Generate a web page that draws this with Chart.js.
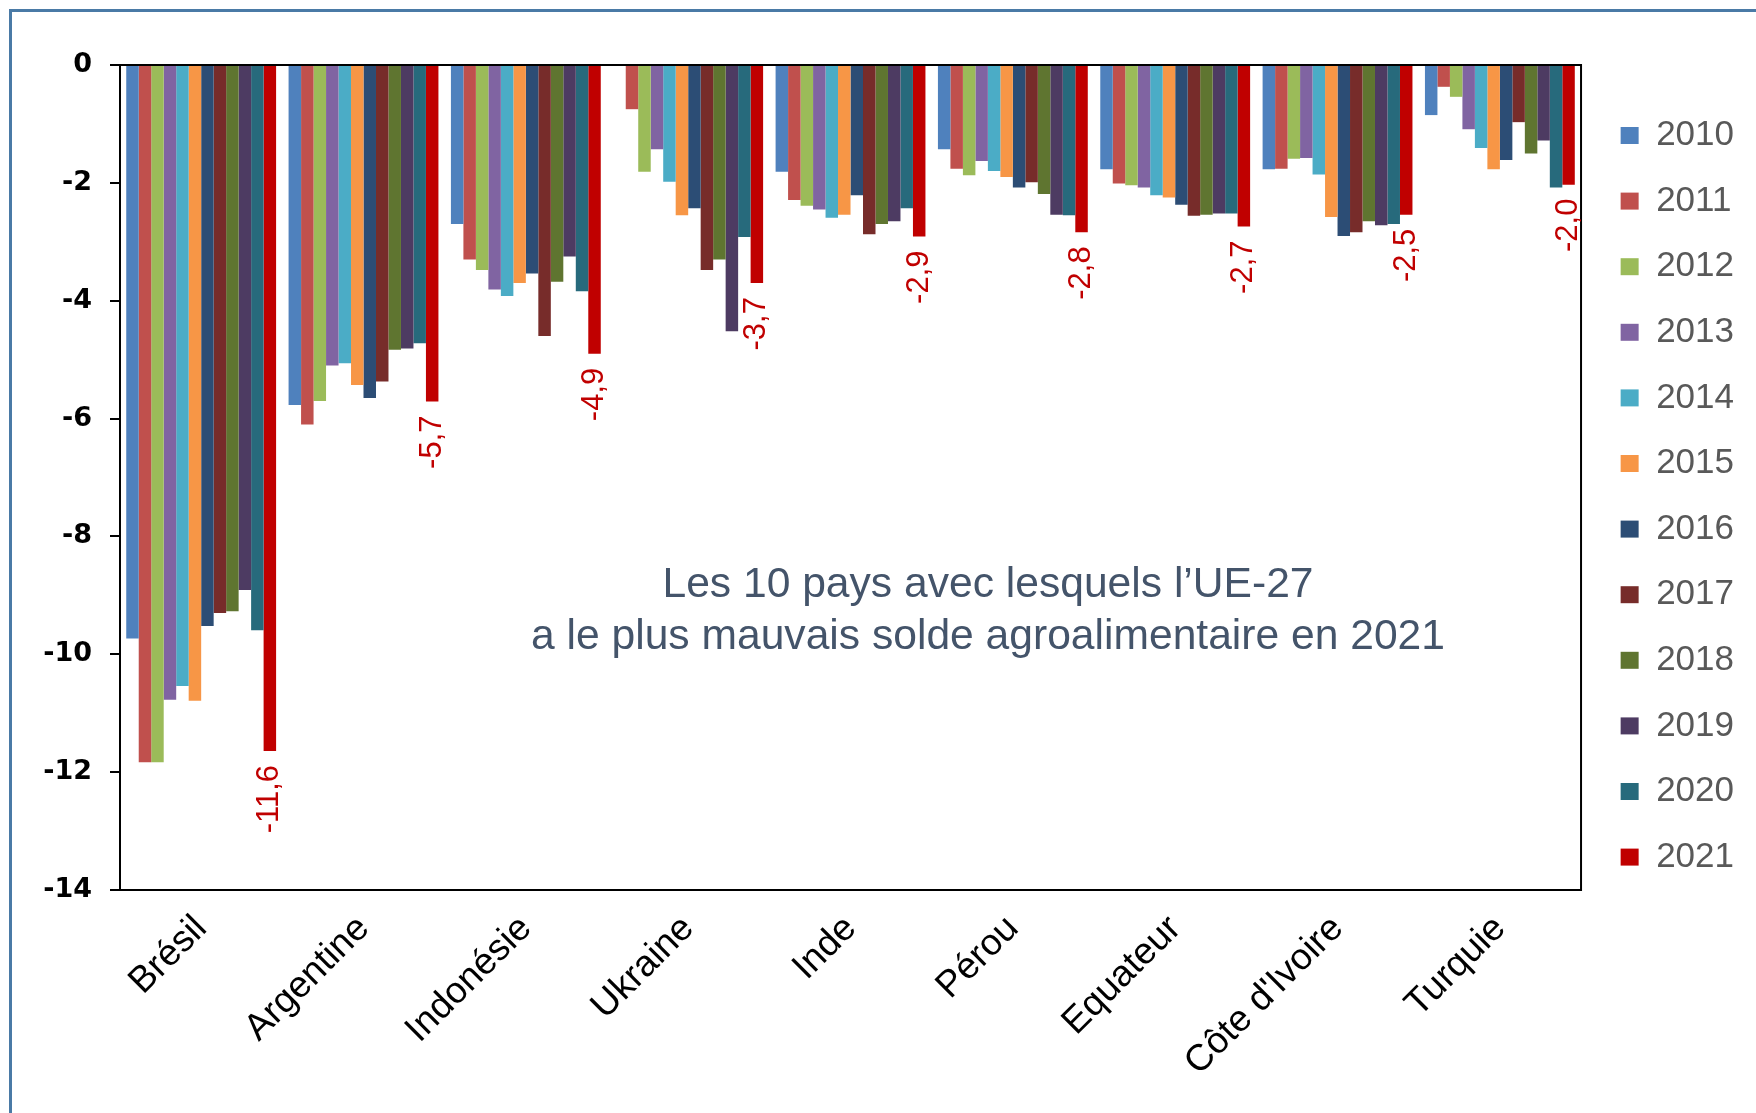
<!DOCTYPE html>
<html lang="fr">
<head>
<meta charset="utf-8">
<title>Solde agroalimentaire UE-27</title>
<script src="https://cdn.jsdelivr.net/npm/chart.js@4.4.1/dist/chart.umd.min.js"></script>
<style>
  html, body { margin: 0; padding: 0; background: #fff; }
  body { width: 1756px; height: 1113px; position: relative; overflow: hidden; }
  #frame { position: absolute; left: 9px; top: 9px; width: 1800px; height: 1200px;
           border-left: 3px solid #4a7aa6; border-top: 3px solid #4a7aa6; }
  #myChart { position: absolute; left: 0; top: 0; }
  #note { position: absolute; left: 488px; top: 556px; width: 1000px; text-align: center;
          font: 42.6px/52px "Liberation Sans", Arial, sans-serif; color: #44546a; }
</style>
</head>
<body>
<div id="frame"></div>
<canvas id="myChart" width="1756" height="1113"></canvas>
<div id="note">Les 10 pays avec lesquels l’UE-27<br>a le plus mauvais solde agroalimentaire en 2021</div>
<script>
// values in billions of euros
const countries = ['Brésil', 'Argentine', 'Indonésie', 'Ukraine', 'Inde', 'Pérou', 'Equateur', "Côte d'Ivoire", 'Turquie'];
const years = ['2010', '2011', '2012', '2013', '2014', '2015', '2016', '2017', '2018', '2019', '2020', '2021'];

const v2010 = [-9.73, -5.77, -2.70, 0, -1.81, -1.43, -1.77, -1.77, -0.85];
const v2011 = [-11.83, -6.10, -3.30, -0.75, -2.29, -1.76, -2.01, -1.76, -0.37];
const v2012 = [-11.83, -5.70, -3.48, -1.81, -2.39, -1.87, -2.04, -1.59, -0.54];
const v2013 = [-10.77, -5.10, -3.81, -1.43, -2.45, -1.63, -2.08, -1.58, -1.09];
const v2014 = [-10.54, -5.06, -3.92, -1.98, -2.59, -1.80, -2.21, -1.86, -1.41];
const v2015 = [-10.79, -5.43, -3.70, -2.55, -2.54, -1.90, -2.25, -2.58, -1.77];
const v2016 = [-9.52, -5.65, -3.54, -2.43, -2.21, -2.08, -2.37, -2.90, -1.61];
const v2017 = [-9.30, -5.37, -4.60, -3.48, -2.87, -1.99, -2.56, -2.84, -0.97];
const v2018 = [-9.27, -4.83, -3.68, -3.30, -2.70, -2.19, -2.54, -2.65, -1.50];
const v2019 = [-8.91, -4.81, -3.25, -4.52, -2.65, -2.54, -2.52, -2.72, -1.28];
const v2020 = [-9.59, -4.72, -3.84, -2.92, -2.43, -2.55, -2.52, -2.70, -2.08];
const v2021 = [-11.64, -5.71, -4.90, -3.70, -2.91, -2.84, -2.74, -2.54, -2.03];

const yTicks = [0, -2, -4, -6, -8, -10, -12, -14];

const seriesValues = [v2010, v2011, v2012, v2013, v2014, v2015, v2016, v2017, v2018, v2019, v2020, v2021];
const seriesColors = ['#4f81bd', '#c0504d', '#9bbb59', '#8064a2', '#4bacc6', '#f79646',
                      '#2c4d75', '#772c2a', '#5f7530', '#4d3b62', '#276a7c', '#c00000'];

// black box round the plot area
const plotBox = {
  id: 'plotBox',
  afterDatasetsDraw(chart) {
    const a = chart.chartArea;
    const ctx = chart.ctx;
    ctx.save();
    ctx.strokeStyle = '#000';
    ctx.lineWidth = 2;
    ctx.strokeRect(a.left, a.top, a.right - a.left, a.bottom - a.top);
    ctx.restore();
  }
};

// vertical value labels under the 2021 bars
const labels2021 = {
  id: 'labels2021',
  afterDatasetsDraw(chart) {
    const meta = chart.getDatasetMeta(years.length - 1);
    const a = chart.chartArea;
    const ctx = chart.ctx;
    ctx.save();
    ctx.beginPath();
    ctx.rect(a.left, a.top, a.right - a.left, a.bottom - a.top);
    ctx.clip();
    ctx.fillStyle = '#c00000';
    ctx.font = '31px "Liberation Sans", Arial, sans-serif';
    ctx.textAlign = 'right';
    ctx.textBaseline = 'middle';
    meta.data.forEach(function (bar, i) {
      ctx.save();
      ctx.translate(bar.x, bar.y + 14);
      ctx.rotate(-Math.PI / 2);
      ctx.fillText(v2021[i].toFixed(1).replace('.', ','), 0, 0);
      ctx.restore();
    });
    ctx.restore();
  }
};

const datasets = years.map(function (y, i) {
  return {
    label: y,
    data: seriesValues[i],
    backgroundColor: seriesColors[i],
    borderWidth: 0,
    barPercentage: 1,
    categoryPercentage: 12 / 13
  };
});

const config = {
  type: 'bar',
  data: { labels: countries, datasets: datasets },
  plugins: [plotBox, labels2021],
  options: {
    responsive: false,
    animation: false,
    devicePixelRatio: 1,
    layout: { padding: { top: 65, right: 12, left: 0, bottom: 0 } },
    scales: {
      x: {
        grid: { display: false },
        border: { display: true, color: '#000', width: 2 },
        ticks: {
          color: '#000',
          autoSkip: false,
          minRotation: 45,
          maxRotation: 45,
          padding: 9,
          font: { family: 'Liberation Sans', size: 37 }
        },
        afterFit: function (s) { s.height = 223; }
      },
      y: {
        min: -14,
        max: 0,
        afterBuildTicks: function (s) { s.ticks = yTicks.map(v => ({ value: v })); },
        ticks: {
          color: '#000',
          padding: 18,
          font: { family: 'DejaVu Sans', size: 27, weight: 'bold' }
        },
        grid: { drawOnChartArea: false, color: '#000', lineWidth: 2, tickLength: 10 },
        border: { display: true, color: '#000', width: 2 },
        afterFit: function (s) { s.width = 120; }
      },
      // empty spacer between the plot and the legend
      y2: {
        position: 'right',
        min: -14,
        max: 0,
        ticks: { display: false },
        grid: { display: false },
        border: { display: false },
        afterFit: function (s) { s.width = 9; }
      }
    },
    plugins: {
      tooltip: { enabled: false },
      legend: {
        position: 'right',
        align: 'start',
        title: { display: true, text: '', padding: { top: 4, bottom: 4 }, font: { size: 12 } },
        labels: {
          boxWidth: 18,
          boxHeight: 17,
          padding: 30.6,
          color: '#595959',
          font: { family: 'Liberation Sans', size: 35 }
        }
      }
    }
  }
};

var ctx = document.getElementById('myChart').getContext('2d');
var myChart = new Chart(ctx, config);
</script>
</body>
</html>
